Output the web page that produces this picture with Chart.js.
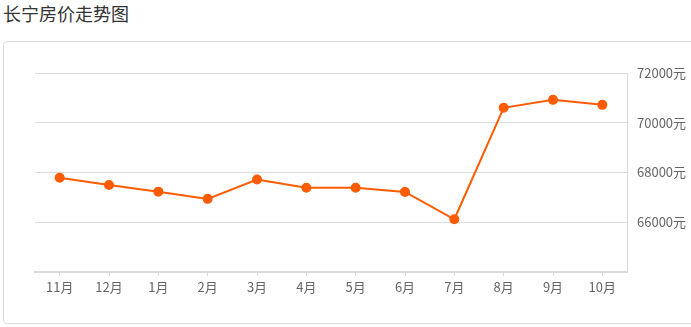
<!DOCTYPE html>
<html>
<head>
<meta charset="utf-8">
<script src="https://cdn.jsdelivr.net/npm/chart.js@4/dist/chart.umd.min.js"></script>
<style>
  html, body { margin: 0; padding: 0; background: #fff; width: 691px; height: 327px; overflow: hidden; }
  #title { position: absolute; left: 3px; top: 4px; font-family: "Noto Sans CJK SC", sans-serif; font-size: 18px; line-height: 18px; color: #333; white-space: nowrap; }
  #box { position: absolute; left: 3px; top: 41px; width: 700px; height: 281px; border: 1px solid #dcdcdc; border-radius: 4px; box-sizing: content-box; }
  #c { position: absolute; left: 0; top: 0; }
</style>
</head>
<body>
<div id="title">长宁房价走势图</div>
<div id="box"></div>
<canvas id="c" width="691" height="327"></canvas>
<script>
const categories = ['11月', '12月', '1月', '2月', '3月', '4月', '5月', '6月', '7月', '8月', '9月', '10月'];
const prices = [67790, 67500, 67230, 66940, 67720, 67390, 67390, 67220, 66120, 70600, 70920, 70720];
const yTicks = [64000, 66000, 68000, 70000, 72000];
const unit = '元';

new Chart(document.getElementById('c'), {
  type: 'line',
  data: {
    labels: categories,
    datasets: [{
      data: prices,
      borderColor: '#ff5c00',
      backgroundColor: '#ff5c00',
      pointBackgroundColor: '#ff5c00',
      pointBorderColor: '#ff5c00',
      borderWidth: 2,
      pointRadius: 4,
      pointHoverRadius: 4,
      tension: 0,
      fill: false
    }]
  },
  options: {
    responsive: false,
    animation: false,
    devicePixelRatio: 1,
    layout: { padding: { left: 35, top: 73, right: 0, bottom: 0 } },
    plugins: { legend: { display: false }, tooltip: { enabled: false }, title: { display: false } },
    scales: {
      x: {
        offset: true,
        grid: { offset: false, drawOnChartArea: false, drawTicks: true, tickLength: 4, color: '#d9d9d9', lineWidth: 1 },
        border: { display: true, color: '#d9d9d9', width: 2 },
        ticks: { color: '#666', font: { family: '"Noto Sans CJK SC", sans-serif', size: 13 }, padding: 3, maxRotation: 0, autoSkip: false },
        afterFit: (s) => { s.height = 55; }
      },
      y: {
        position: 'right',
        min: yTicks[0],
        max: yTicks[yTicks.length - 1],
        afterBuildTicks: (s) => { s.ticks = yTicks.map(v => ({ value: v })); },
        grid: { color: '#dcdcdc', lineWidth: 1, drawTicks: false },
        border: { display: true, color: '#d9d9d9', width: 1 },
        ticks: {
          color: '#666',
          font: { family: '"Noto Sans CJK SC", sans-serif', size: 13 },
          padding: 10,
          callback: (v) => v === yTicks[0] ? '' : v + unit
        },
        afterFit: (s) => { s.width = 64; }
      }
    }
  }
});
</script>
</body>
</html>
